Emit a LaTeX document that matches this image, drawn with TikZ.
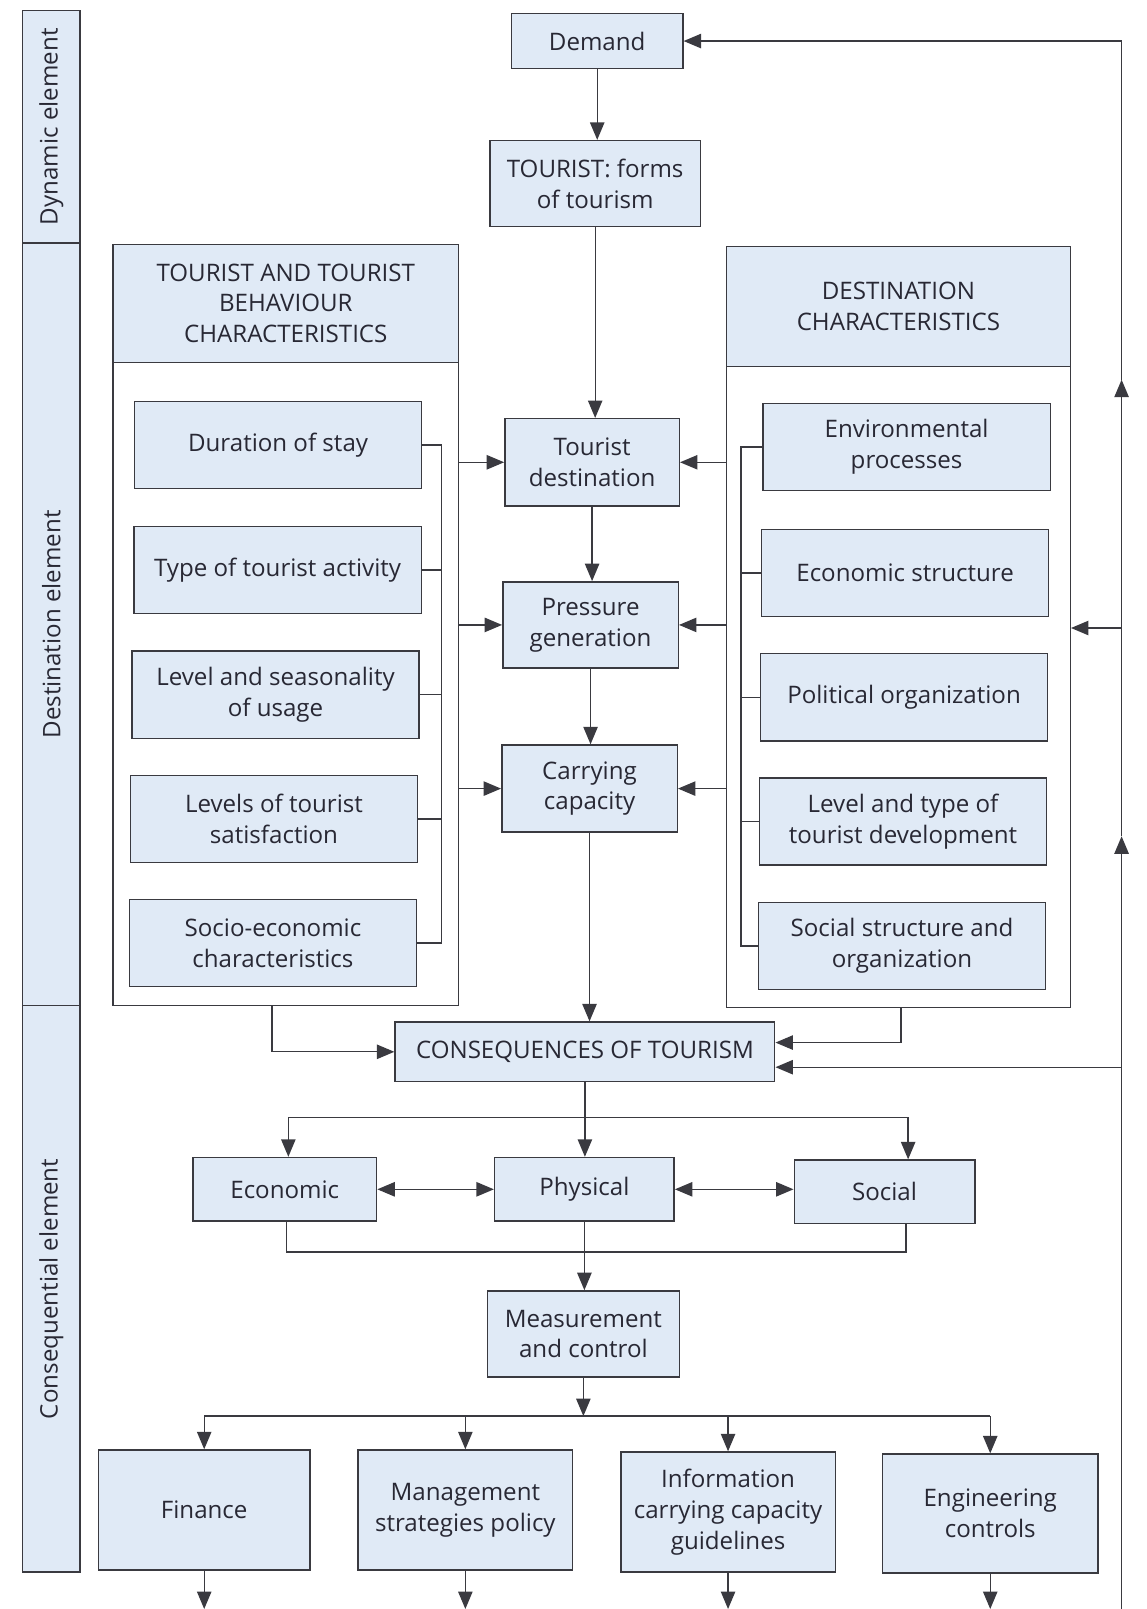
\documentclass[tikz,border=0pt]{standalone}
\usepackage{fontspec}
\setmainfont{Open Sans}
\usetikzlibrary{arrows.meta}
\definecolor{boxfill}{RGB}{224,234,246}
\definecolor{ink}{RGB}{58,58,64}
\definecolor{txt}{RGB}{40,40,52}
\tikzset{
  base/.style={draw=ink, line width=1.4pt, align=center, text=txt, inner sep=2pt,
    font=\fontsize{23.5}{30}\selectfont},
  box/.style={base, fill=boxfill},
  grp/.style={base, fill=white},
  side/.style={base, fill=boxfill, rotate=90},
  link/.style={draw=ink, line width=1.3pt},
  tip/.tip={Triangle[length=17pt,width=14pt]},
  arr/.style={link, -tip},
  dbl/.style={link, tip-tip},
}
\begin{document}
\begin{tikzpicture}[x=1pt,y=-1pt]
\useasboundingbox (0,0) rectangle (1117,1568);

% side band with the three element labels
\node[side, minimum width=227pt, minimum height=56pt] (sdyn)  at (50,123.5) {Dynamic element};
\node[side, minimum width=743pt, minimum height=56pt] (sdest) at (50,608.5) {Destination element};
\node[side, minimum width=552pt, minimum height=56pt] (scons) at (50,1256) {Consequential element};

% central column
\node[box, minimum width=167pt, minimum height=54pt] (dem) at (582,40) {Demand};
\node[box, minimum width=205pt, minimum height=84pt] (tour) at (580,179) {TOURIST: forms\\of tourism};
\node[box, minimum width=170pt, minimum height=85pt] (tdest) at (577,450.5) {Tourist\\destination};
\node[box, minimum width=171pt, minimum height=84pt] (press) at (575.5,609) {Pressure\\generation};
\node[box, minimum width=171pt, minimum height=85pt] (carry) at (574.5,768.5) {Carrying\\capacity};
\node[box, minimum width=370pt, minimum height=58pt] (cons) at (570,1025) {CONSEQUENCES OF TOURISM};

% tourist group
\node[grp, minimum width=337pt, minimum height=742pt] (lgrp) at (278.5,609) {};
\node[box, minimum width=337pt, minimum height=115pt] (lhdr) at (278.5,295.5) {TOURIST AND TOURIST\\BEHAVIOUR\\CHARACTERISTICS};
\node[box, minimum width=280pt, minimum height=85pt] (dur) at (271,433.5) {Duration of stay};
\node[box, minimum width=280pt, minimum height=85pt] (act) at (270.5,555.5) {Type of tourist activity};
\node[box, minimum width=280pt, minimum height=85pt] (sea) at (268.5,677) {Level and seasonality\\of usage};
\node[box, minimum width=280pt, minimum height=85pt] (sat) at (267,798) {Levels of tourist\\satisfaction};
\node[box, minimum width=280pt, minimum height=85pt] (soe) at (266,919) {Socio-economic\\characteristics};

% destination group
\node[grp, minimum width=335pt, minimum height=742pt] (rgrp) at (875.5,611) {};
\node[box, minimum width=335pt, minimum height=117pt] (rhdr) at (875.5,298.5) {DESTINATION\\CHARACTERISTICS};
\node[box, minimum width=280pt, minimum height=85pt] (env) at (883.5,435.5) {Environmental\\processes};
\node[box, minimum width=280pt, minimum height=85pt] (ecs) at (882,558.5) {Economic structure};
\node[box, minimum width=280pt, minimum height=85pt] (pol) at (881,679.5) {Political organization};
\node[box, minimum width=280pt, minimum height=85pt] (dev) at (880,800.5) {Level and type of\\tourist development};
\node[box, minimum width=280pt, minimum height=85pt] (sso) at (879,922) {Social structure and\\organization};

% consequences
\node[box, minimum width=179pt, minimum height=62pt] (eco) at (277.5,1159) {Economic};
\node[box, minimum width=175pt, minimum height=62pt] (phy) at (569.5,1159) {Physical};
\node[box, minimum width=176pt, minimum height=62pt] (soc) at (862,1161.5) {Social};
\node[box, minimum width=187pt, minimum height=84pt] (meas) at (568.5,1300) {Measurement\\and control};

% responses
\node[box, minimum width=206pt, minimum height=117pt] (fin) at (199,1471.5) {Finance};
\node[box, minimum width=209pt, minimum height=117pt] (man) at (453.5,1471.5) {Management\\strategies policy};
\node[box, minimum width=209pt, minimum height=117pt] (inf) at (709.5,1473.5) {Information\\carrying capacity\\guidelines};
\node[box, minimum width=210pt, minimum height=116pt] (eng) at (965,1475) {Engineering\\controls};

% helper points
\coordinate (lbus) at (430,0);
\coordinate (rbus) at (722,0);
\coordinate (fbBot) at (1093,1568);
\coordinate (fbUp1) at (1093,815);
\coordinate (fbUp2) at (1093,370);
\coordinate (fbR) at (1093,612);
\coordinate (fbC) at (1093,1040);
\coordinate (brL) at (281,1089);
\coordinate (brR) at (885,1089);
\coordinate (mgL) at (279,1220);
\coordinate (mgR) at (883,1220);
\coordinate (dist) at (0,1380);

% main chain
\draw[arr] (dem.south) -- (dem.south |- tour.north);
\draw[arr] (tour.south) -- (tour.south |- tdest.north);
\draw[arr] (tdest.south) -- (tdest.south |- press.north);
\draw[arr] (press.south) -- (press.south |- carry.north);
\draw[arr] (carry.south) -- (carry.south |- cons.north);

% tourist bus
\draw[link] (dur.east) -| (lbus |- soe) -- (soe.east);
\draw[link] (act.east) -- (act.east -| lbus);
\draw[link] (sea.east) -- (sea.east -| lbus);
\draw[link] (sat.east) -- (sat.east -| lbus);
\draw[arr] (lgrp.east |- tdest) -- (tdest.west);
\draw[arr] (lgrp.east |- press) -- (press.west);
\draw[arr] (lgrp.east |- carry) -- (carry.west);

% destination bus
\draw[link] (env.west) -| (rbus |- sso) -- (sso.west);
\draw[link] (ecs.west) -- (ecs.west -| rbus);
\draw[link] (pol.west) -- (pol.west -| rbus);
\draw[link] (dev.west) -- (dev.west -| rbus);
\draw[arr] (rgrp.west |- tdest) -- (tdest.east);
\draw[arr] (rgrp.west |- press) -- (press.east);
\draw[arr] (rgrp.west |- carry) -- (carry.east);

% groups into consequences
\draw[arr] ([xshift=-13.5pt]lgrp.south) |- (cons.west);
\draw[arr] ([xshift=2.5pt]rgrp.south) |- ([yshift=9pt]cons.east);

% feedback loop on the right
\draw[arr] (fbBot) -- (fbUp1);
\draw[arr] (fbUp1) -- (fbUp2);
\draw[arr] (fbUp2) -- (fbUp2 |- dem) -- (dem.east);
\draw[arr] (fbR) -- (fbR -| rgrp.east);
\draw[arr] (fbC) -- (fbC -| cons.east);

% consequences split
\draw[arr] (cons.south) -- (cons.south |- phy.north);
\draw[link] (brL) -- (brR);
\draw[arr] (brL) -- (brL |- eco.north);
\draw[arr] (brR) -- (brR |- soc.north);
\draw[dbl] (eco.east) -- (phy.west);
\draw[dbl] (phy.east) -- (phy.east -| soc.west);
\draw[link] (eco.south -| mgL) -- (mgL) -- (mgR) -- (soc.south -| mgR);
\draw[arr] (phy.south) -- (phy.south |- meas.north);

% measurement and responses
\draw[arr] (meas.south) -- (meas.south |- dist);
\draw[link] (fin.north |- dist) -- (eng.north |- dist);
\foreach \b in {fin,man,inf,eng}{
  \draw[arr] (\b.north |- dist) -- (\b.north);
  \draw[arr] (\b.south) -- (\b.south |- fbBot);
}
\end{tikzpicture}
\end{document}
